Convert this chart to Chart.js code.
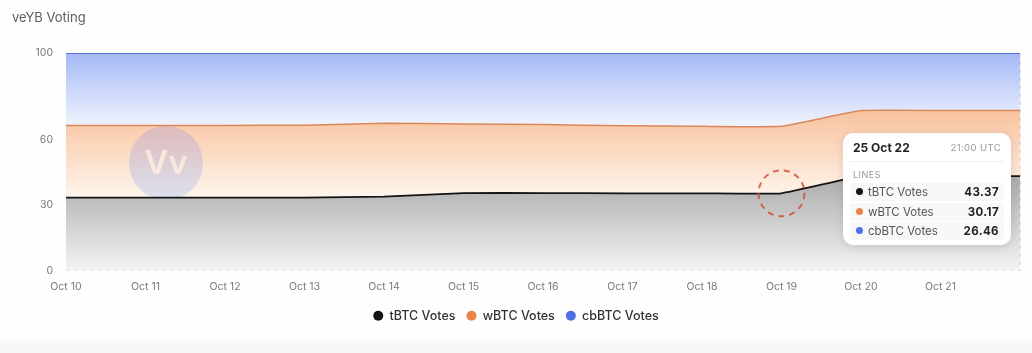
<!DOCTYPE html>
<html>
<head>
<meta charset="utf-8">
<script src="https://cdn.jsdelivr.net/npm/chart.js@4.4.1/dist/chart.umd.min.js"></script>
<style>
  html, body { margin:0; padding:0; background:#fefefe; width:1032px; height:353px; overflow:hidden; font-family: Inter, "Open Sans", sans-serif; }
  #wrap { position:relative; width:1032px; height:341px; }
  #title { position:absolute; left:12px; top:9px; font-size:13px; color:#606060; }
  #strip { position:absolute; left:0; top:341px; width:1032px; height:12px; background:#f8f8f8; }
  #tip { position:absolute; left:843px; top:133px; width:168px; height:112px; background:#fff; border-radius:10px;
         box-shadow:0 2px 10px rgba(0,0,0,0.12); box-sizing:border-box; padding:0 7px; }
  #tip .hd { display:flex; justify-content:space-between; align-items:center; height:28px; padding:0 3px; border-bottom:1px solid #f0f0f0; }
  #tip .hd b { font-size:12px; color:#222; }
  #tip .hd span { font-size:9.5px; color:#999; letter-spacing:0.4px; }
  #tip .sec { font-size:9px; color:#999; letter-spacing:0.5px; padding:7px 3px 3px; }
  #tip .row { display:flex; align-items:center; justify-content:space-between; height:18px; margin-bottom:1.5px; background:#f7f8fa; border-radius:3px; padding:0 5px 0 6px; font-size:11.5px; color:#555; }
  #tip .row i { display:inline-block; width:7px; height:7px; border-radius:50%; margin-right:5px; vertical-align:middle; position:relative; top:-1px; }
  #tip .row b { color:#222; font-size:11.5px; letter-spacing:0.4px; }
</style>
</head>
<body>
<div id="wrap">
  <canvas id="c" width="1032" height="341"></canvas>
  <div id="title">veYB Voting</div>
  <div id="tip"></div>
</div>
<div id="strip"></div>
<script>
const categories = ['Oct 10','Oct 11','Oct 12','Oct 13','Oct 14','Oct 15','Oct 16','Oct 17','Oct 18','Oct 19','Oct 20','Oct 21','Oct 22'];
const tickLabels = ['Oct 10','Oct 11','Oct 12','Oct 13','Oct 14','Oct 15','Oct 16','Oct 17','Oct 18','Oct 19','Oct 20','Oct 21',''];
const yTicks = [0, 30, 60, 100];
const tbtcVotes  = [33.5, 33.5, 33.5, 33.5, 34.0, 35.6, 35.6, 35.5, 35.5, 35.5, 43.37, 43.37, 43.37];
const wbtcVotes  = [33.2, 33.2, 33.2, 33.3, 33.7, 31.8, 31.5, 31.0, 30.8, 30.8, 30.17, 30.2, 30.2];
const cbbtcVotes = [33.3, 33.3, 33.3, 33.2, 32.3, 32.6, 32.9, 33.5, 33.7, 33.7, 26.46, 26.43, 26.43];
const seriesNames = ['tBTC Votes', 'wBTC Votes', 'cbBTC Votes'];
const tipIndex = 10;
const tipTitle = '25 Oct 22';
const tipTime = '21:00 UTC';
const markIndex = 9;

const lineColors = ['#141414', '#d9875a', '#5877dc'];
const dotColors = ['#141414', '#ea8448', '#4f6ee8'];

function grad(ctx, y0v, y1v, c0, c1) {
  const chart = ctx.chart; const ys = chart.scales.y;
  if (!ys || !chart.chartArea) return c0;
  const g = chart.ctx.createLinearGradient(0, ys.getPixelForValue(y0v), 0, ys.getPixelForValue(y1v));
  g.addColorStop(0, c0); g.addColorStop(1, c1);
  return g;
}

const watermark = {
  id: 'watermark',
  beforeDatasetsDraw(chart) {
    const c = chart.ctx;
    const cx = 166, cy = 163, r = 37;
    c.save();
    const g = c.createLinearGradient(0, cy - r, 0, cy + r);
    g.addColorStop(0, 'rgba(190,165,205,0.45)');
    g.addColorStop(1, 'rgba(175,200,240,0.45)');
    c.fillStyle = g;
    c.beginPath(); c.arc(cx, cy, r, 0, Math.PI * 2); c.fill();
    c.fillStyle = 'rgba(255,236,222,0.85)';
    c.font = '600 33px Inter, sans-serif';
    c.textAlign = 'center'; c.textBaseline = 'middle';
    c.fillText('Vv', cx, cy + 1);
    c.restore();
  }
};

const markCircle = {
  id: 'markCircle',
  afterDatasetsDraw(chart) {
    const el = chart.getDatasetMeta(0).data[markIndex];
    if (!el) return;
    const c = chart.ctx;
    c.save();
    c.strokeStyle = 'rgba(205,85,55,0.85)';
    c.lineWidth = 2;
    c.setLineDash([6, 5]);
    c.beginPath(); c.arc(el.x, el.y, 23, 0, Math.PI * 2); c.stroke();
    c.restore();
  }
};

new Chart(document.getElementById('c'), {
  type: 'line',
  data: {
    labels: categories,
    datasets: [
      { label: seriesNames[0], data: tbtcVotes, borderColor: lineColors[0], borderWidth: 1.8, fill: 'origin',
        backgroundColor: ctx => grad(ctx, 45, 0, 'rgba(168,168,168,1)', 'rgba(244,244,244,1)') },
      { label: seriesNames[1], data: wbtcVotes, borderColor: lineColors[1], borderWidth: 1.5, fill: '-1',
        backgroundColor: ctx => grad(ctx, 72, 33, 'rgba(248,196,160,1)', 'rgba(255,246,238,1)') },
      { label: seriesNames[2], data: cbbtcVotes, borderColor: lineColors[2], borderWidth: 2, fill: '-1',
        backgroundColor: ctx => grad(ctx, 100, 66, 'rgba(164,184,246,1)', 'rgba(242,245,254,1)') }
    ]
  },
  options: {
    responsive: false,
    animation: false,
    events: [],
    elements: { point: { radius: 0 }, line: { tension: 0.1 } },
    layout: { padding: { top: 53, right: 0, left: 0, bottom: 9 } },
    scales: {
      x: {
        grid: { drawTicks: false, color: ctx => ctx.index === categories.length - 1 ? '#dedede' : 'rgba(0,0,0,0)' },
        border: { display: false, dash: [4, 4] },
        ticks: { autoSkip: false, maxRotation: 0, padding: 10, color: '#7a7a7a', font: { family: 'Inter, sans-serif', size: 10.5 },
                 callback: (v, i) => tickLabels[i] },
        afterFit: s => { s.height = 28; }
      },
      y: {
        stacked: true, min: 0, max: 100,
        afterBuildTicks: s => { s.ticks = yTicks.map(v => ({ value: v })); },
        grid: { drawTicks: false, color: '#e2e2e2' },
        border: { display: false, dash: [4, 4] },
        ticks: { padding: 13, color: '#7a7a7a', font: { family: 'Inter, sans-serif', size: 10.5 } },
        afterFit: s => { s.width = 66; }
      },
      yRightSpace: {
        position: 'right', display: true,
        grid: { display: false, drawTicks: false },
        border: { display: false },
        ticks: { display: false },
        afterFit: s => { s.width = 12; }
      }
    },
    plugins: {
      filler: { drawTime: 'beforeDatasetsDraw' },
      tooltip: { enabled: false },
      legend: {
        position: 'bottom',
        labels: {
          usePointStyle: true, pointStyle: 'circle', boxWidth: 10, boxHeight: 7.07, padding: 11,
          color: '#333', font: { family: 'Inter, sans-serif', size: 12.5, weight: '500' },
          generateLabels: chart => chart.data.datasets.map((d, i) => ({
            text: d.label, fillStyle: dotColors[i], strokeStyle: dotColors[i], lineWidth: 0,
            pointStyle: 'circle', datasetIndex: i, hidden: false, fontColor: '#333'
          }))
        }
      }
    }
  },
  plugins: [watermark, markCircle]
});

const tip = document.getElementById('tip');
const vals = [tbtcVotes[tipIndex], wbtcVotes[tipIndex], cbbtcVotes[tipIndex]];
let html = '<div class="hd"><b>' + tipTitle + '</b><span>' + tipTime + '</span></div><div class="sec">LINES</div>';
seriesNames.forEach((n, i) => {
  html += '<div class="row"><span><i style="background:' + dotColors[i] + '"></i>' + n + '</span><b>' + vals[i].toFixed(2) + '</b></div>';
});
tip.innerHTML = html;
</script>
</body>
</html>
